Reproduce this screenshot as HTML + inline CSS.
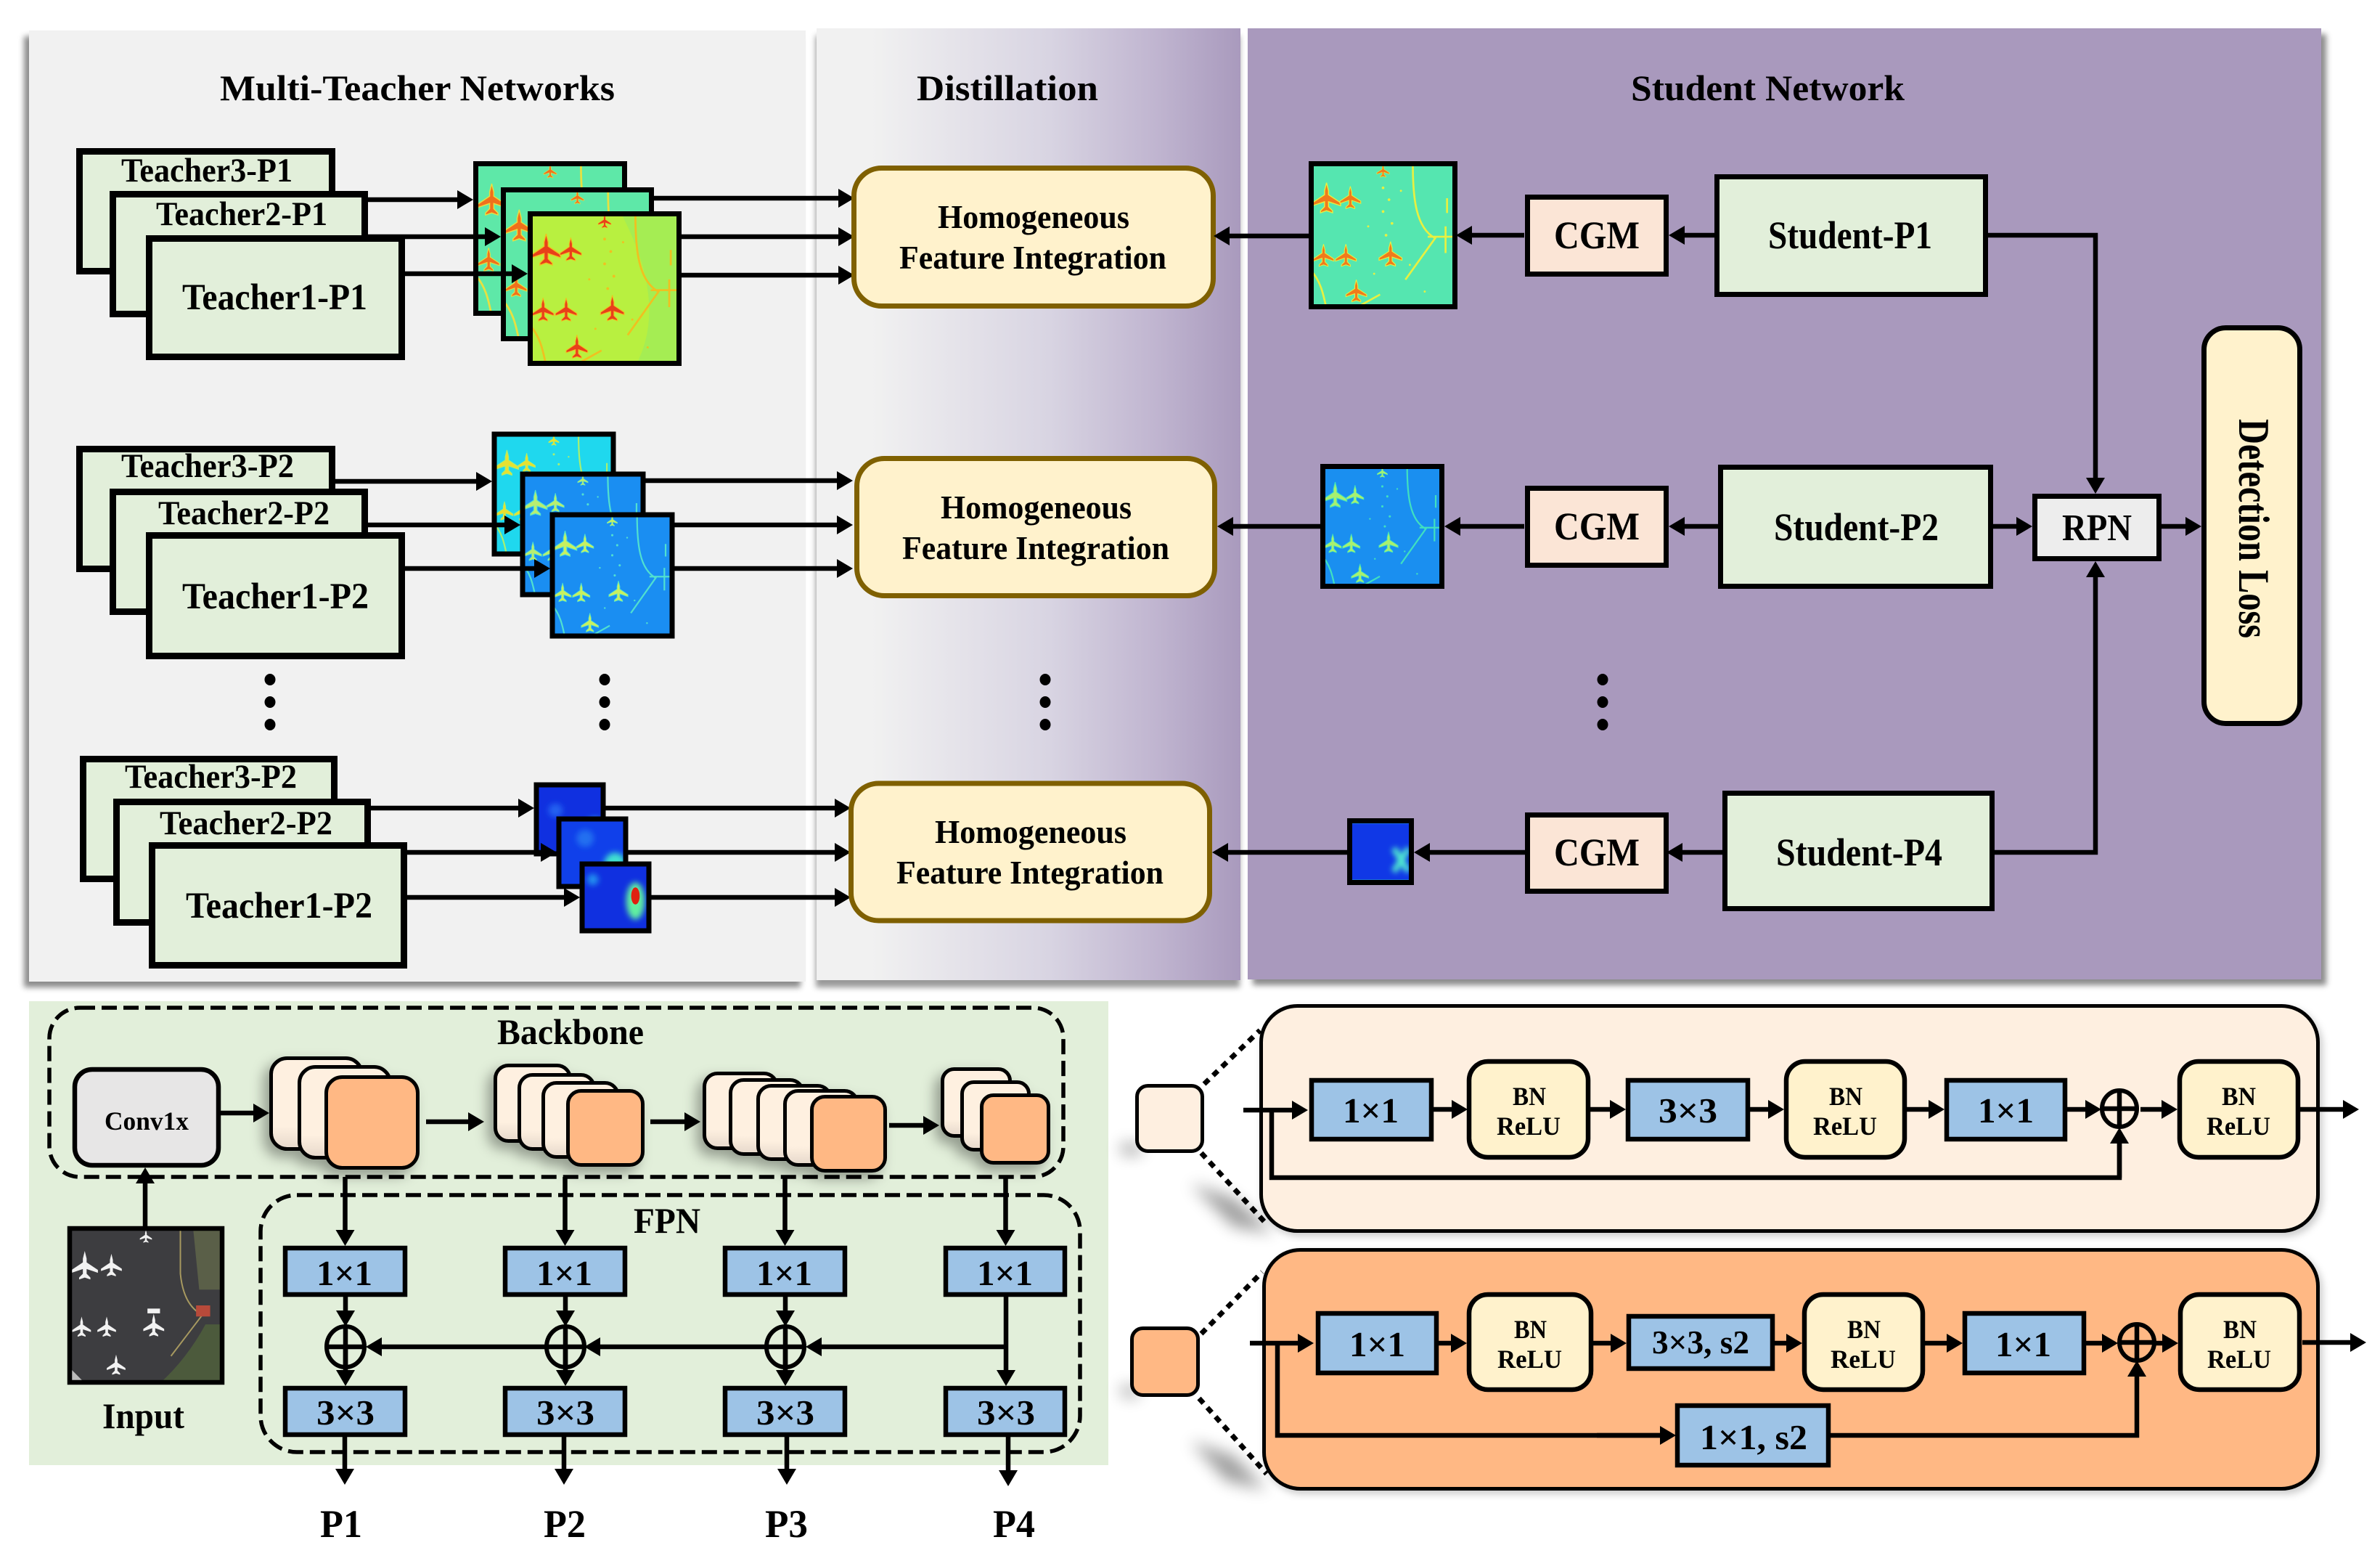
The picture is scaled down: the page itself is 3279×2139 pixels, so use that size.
<!DOCTYPE html>
<html><head><meta charset="utf-8">
<style>
html,body{margin:0;padding:0;background:#fff;width:3279px;height:2139px;overflow:hidden}
svg{display:block}
text{font-family:"Liberation Serif",serif;font-weight:bold;fill:#000}
.a{stroke:#000;stroke-width:6.5;fill:none;marker-end:url(#h)}
.l{stroke:#000;stroke-width:6.5;fill:none}
.t{fill:#e2efda;stroke:#000;stroke-width:9}
.s{fill:#e2efda;stroke:#000;stroke-width:7}
.c{fill:#fbe5d6;stroke:#000;stroke-width:7}
.fb{fill:none;stroke:#000;stroke-width:7}
.hf{fill:#fff2cc;stroke:#7f6000;stroke-width:7}
.b{fill:#9dc3e6;stroke:#000;stroke-width:6.5}
.bn{fill:#fff2cc;stroke:#000;stroke-width:6.5}
.k{fill:url(#cg);stroke:#000;stroke-width:5}
.o{fill:#ffb884;stroke:#000;stroke-width:5}
.d{fill:none;stroke:#000;stroke-width:5.5;stroke-dasharray:21 9}
.p{fill:none;stroke:#000;stroke-width:7;stroke-dasharray:9 8}
.x{fill:none;stroke:#000;stroke-width:6}
</style></head><body>
<svg width="3279" height="2139" viewBox="0 0 3279 2139" xmlns="http://www.w3.org/2000/svg">
<defs>
<marker id="h" markerUnits="userSpaceOnUse" markerWidth="24" markerHeight="28" refX="0" refY="13" orient="auto" overflow="visible"><path d="M0,0L22,13L0,26Z" fill="#000"/></marker>
<linearGradient id="dg" x1="0" x2="1" y1="0" y2="0"><stop offset=".13" stop-color="#f1f1f1"/><stop offset=".55" stop-color="#d8d4e2"/><stop offset=".8" stop-color="#c0b5d0"/><stop offset="1" stop-color="#a99abd"/></linearGradient>
<linearGradient id="cg" x1="0" x2="0" y1="0" y2="1"><stop offset=".75" stop-color="#fef0e0"/><stop offset="1" stop-color="#e6d8cb"/></linearGradient>
<filter id="s1" x="-5%" y="-5%" width="110%" height="110%"><feDropShadow dx="-7" dy="8" stdDeviation="4" flood-color="#000" flood-opacity=".45"/></filter>
<filter id="s2" x="-5%" y="-5%" width="110%" height="110%"><feDropShadow dx="-1" dy="10" stdDeviation="4" flood-color="#000" flood-opacity=".4"/></filter>
<filter id="s3" x="-5%" y="-5%" width="110%" height="110%"><feDropShadow dx="7" dy="8" stdDeviation="4" flood-color="#000" flood-opacity=".45"/></filter>
<filter id="sc" x="-40%" y="-40%" width="180%" height="180%"><feDropShadow dx="-8" dy="9" stdDeviation="9" flood-color="#000" flood-opacity=".35"/></filter>
<filter id="sp" x="-5%" y="-5%" width="110%" height="110%"><feDropShadow dx="4" dy="5" stdDeviation="5" flood-color="#000" flood-opacity=".2"/></filter>
<filter id="bl" x="-60%" y="-60%" width="220%" height="220%"><feGaussianBlur stdDeviation="11"/></filter>
<filter id="b4" x="-50%" y="-50%" width="200%" height="200%"><feGaussianBlur stdDeviation="4"/></filter>
<path id="pl" d="M0,-7L1,-3L1,-1L7,3L7,4.5L1,2.5L1,5L3,7L3,8L0,7L-3,8L-3,7L-1,5L-1,2.5L-7,4.5L-7,3L-1,-1L-1,-3Z"/>
<g id="air" fill="currentColor">
<g stroke="var(--h)" stroke-width=".5">
<use href="#pl" transform="translate(12,24) scale(1.35)"/>
<use href="#pl" transform="translate(28,24) scale(1)"/>
<use href="#pl" transform="translate(50,6) scale(.6)"/>
<use href="#pl" transform="translate(10,63)"/>
<use href="#pl" transform="translate(25,63)"/>
<use href="#pl" transform="translate(55,62) scale(1.1)"/>
<use href="#pl" transform="translate(32,87)"/>
</g>
<g fill="none" stroke="var(--h)" stroke-width="1.3">
<path d="M70,2C70,25 72,45 85,52L65,80M92,44V62M80,51H98M0,72C8,80 10,90 12,100M30,100L48,90M93,25V35"/>
</g>
<g fill="var(--h)"><circle cx="50" cy="18" r=".9"/><circle cx="54" cy="26" r=".9"/><circle cx="50" cy="34" r=".9"/><circle cx="56" cy="42" r=".9"/><circle cx="52" cy="50" r=".9"/><circle cx="40" cy="44" r=".7"/><circle cx="68" cy="70" r=".7"/><circle cx="78" cy="88" r=".7"/><circle cx="44" cy="76" r=".7"/><circle cx="62" cy="20" r=".7"/></g>
</g>
</defs>

<!-- panels -->
<rect x="40" y="42" width="1070" height="1310" fill="#f1f1f1" filter="url(#s1)"/>
<rect x="1125" y="39" width="584" height="1311" fill="url(#dg)" filter="url(#s2)"/>
<rect x="1719" y="39" width="1479" height="1310" fill="#a999bd" filter="url(#s3)"/>

<!-- titles -->
<text x="303" y="138" font-size="50" textLength="544" lengthAdjust="spacingAndGlyphs">Multi-Teacher Networks</text>
<text x="1263" y="138" font-size="50" textLength="250" lengthAdjust="spacingAndGlyphs">Distillation</text>
<text x="2247" y="138" font-size="50" textLength="377" lengthAdjust="spacingAndGlyphs">Student Network</text>

<!-- row 1 teachers -->
<rect class="t" x="109.5" y="208.5" width="348" height="165"/>
<text x="167" y="250" font-size="47" textLength="236" lengthAdjust="spacingAndGlyphs">Teacher3-P1</text>
<rect class="t" x="155.5" y="267.5" width="347" height="165"/>
<text x="215" y="310" font-size="47" textLength="236" lengthAdjust="spacingAndGlyphs">Teacher2-P1</text>
<rect class="t" x="205.5" y="328.5" width="348" height="163"/>
<text x="251" y="426" font-size="51" textLength="255" lengthAdjust="spacingAndGlyphs">Teacher1-P1</text>

<!-- row 1 maps -->
<svg x="652" y="222" width="212" height="213" viewBox="0 0 100 100" preserveAspectRatio="none"><rect width="100" height="100" fill="#5ee8a8"/><use href="#air" style="color:#f0701c;--h:#e8e040"/></svg>
<rect class="fb" x="655.5" y="225.5" width="205" height="206"/>
<svg x="690" y="258" width="211" height="212" viewBox="0 0 100 100" preserveAspectRatio="none"><rect width="100" height="100" fill="#5ee8a8"/><use href="#air" style="color:#f0701c;--h:#e8e040"/></svg>
<rect class="fb" x="693.5" y="261.5" width="204" height="205"/>
<svg x="727" y="291" width="212" height="213" viewBox="0 0 100 100" preserveAspectRatio="none"><rect width="100" height="100" fill="#b8f040"/><path d="M60,0H100V100H70Q92,60 60,0Z" fill="#a0ec58" opacity=".8"/><use href="#air" style="color:#e8401a;--h:#f0c020"/></svg>
<rect class="fb" x="730.5" y="294.5" width="205" height="206"/>

<path class="a" d="M507 275H630"/><path class="a" d="M507 326H668"/><path class="a" d="M558 377H705"/>
<path class="a" d="M901 273H1155"/><path class="a" d="M939 326H1155"/><path class="a" d="M939 379H1155"/>

<rect class="hf" x="1176.5" y="231.5" width="495" height="190" rx="38"/>
<text x="1292" y="314" font-size="46" textLength="264" lengthAdjust="spacingAndGlyphs">Homogeneous</text>
<text x="1239" y="370" font-size="46" textLength="368" lengthAdjust="spacingAndGlyphs">Feature Integration</text>

<svg x="1803" y="222" width="205" height="204" viewBox="0 0 100 100" preserveAspectRatio="none"><rect width="100" height="100" fill="#55e6b0"/><use href="#air" style="color:#f07a1c;--h:#e8f040"/></svg>
<rect class="fb" x="1806.5" y="225.5" width="198" height="197"/>
<path class="a" d="M1803 325H1694"/>
<path class="a" d="M2100 324H2028"/>
<rect class="c" x="2104.5" y="271.5" width="191" height="106"/>
<text x="2141" y="342" font-size="54" textLength="118" lengthAdjust="spacingAndGlyphs">CGM</text>
<path class="a" d="M2362 324H2321"/>
<rect class="s" x="2365.5" y="243.5" width="370" height="162"/>
<text x="2436" y="342" font-size="54" textLength="226" lengthAdjust="spacingAndGlyphs">Student-P1</text>
<path class="a" d="M2739 324H2887V658"/>

<!-- row 2 teachers -->
<rect class="t" x="109.5" y="618.5" width="348" height="165"/>
<text x="167" y="657" font-size="47" textLength="238" lengthAdjust="spacingAndGlyphs">Teacher3-P2</text>
<rect class="t" x="155.5" y="677.5" width="347" height="165"/>
<text x="218" y="722" font-size="47" textLength="236" lengthAdjust="spacingAndGlyphs">Teacher2-P2</text>
<rect class="t" x="205.5" y="737.5" width="348" height="166"/>
<text x="251" y="838" font-size="51" textLength="257" lengthAdjust="spacingAndGlyphs">Teacher1-P2</text>

<svg x="678" y="595" width="170" height="171" viewBox="0 0 100 100" preserveAspectRatio="none"><rect width="100" height="100" fill="#1fd8ee"/><use href="#air" style="color:#e8e030;--h:#a8f070"/></svg>
<rect class="fb" x="681" y="598" width="164" height="165"/>
<svg x="717" y="650" width="172" height="172" viewBox="0 0 100 100" preserveAspectRatio="none"><rect width="100" height="100" fill="#1a8ef2"/><use href="#air" style="color:#b8ee70;--h:#50e0d0"/></svg>
<rect class="fb" x="720" y="653" width="166" height="166"/>
<svg x="758" y="706" width="171" height="173" viewBox="0 0 100 100" preserveAspectRatio="none"><rect width="100" height="100" fill="#1a8ef2"/><use href="#air" style="color:#c8f060;--h:#50e0d0"/></svg>
<rect class="fb" x="761" y="709" width="165" height="167"/>

<path class="a" d="M462 663H656"/><path class="a" d="M507 723H695"/><path class="a" d="M558 783H736"/>
<path class="a" d="M889 662H1153"/><path class="a" d="M929 723H1153"/><path class="a" d="M929 783H1153"/>

<rect class="hf" x="1180.5" y="631.5" width="493" height="189" rx="38"/>
<text x="1296" y="714" font-size="46" textLength="263" lengthAdjust="spacingAndGlyphs">Homogeneous</text>
<text x="1243" y="770" font-size="46" textLength="368" lengthAdjust="spacingAndGlyphs">Feature Integration</text>

<svg x="1819" y="639" width="171" height="172" viewBox="0 0 100 100" preserveAspectRatio="none"><rect width="100" height="100" fill="#1a8ff0"/><use href="#air" style="color:#a8f070;--h:#40e0c0"/></svg>
<rect class="fb" x="1822.5" y="642.5" width="164" height="165"/>
<path class="a" d="M1819 725H1699"/>
<path class="a" d="M2100 725H2012"/>
<rect class="c" x="2104.5" y="672.5" width="191" height="106"/>
<text x="2141" y="743" font-size="54" textLength="118" lengthAdjust="spacingAndGlyphs">CGM</text>
<path class="a" d="M2367 725H2321"/>
<rect class="s" x="2370.5" y="643.5" width="372" height="164"/>
<text x="2444" y="744" font-size="54" textLength="227" lengthAdjust="spacingAndGlyphs">Student-P2</text>
<path class="a" d="M2746 725H2778"/>
<rect x="2803.5" y="683.5" width="171" height="86" fill="#ededed" stroke="#000" stroke-width="7"/>
<text x="2841" y="744" font-size="52" textLength="96" lengthAdjust="spacingAndGlyphs">RPN</text>
<path class="a" d="M2978 725H3011"/>

<rect x="3036.5" y="451.5" width="132" height="545" rx="30" fill="#fff2cc" stroke="#000" stroke-width="7"/>
<text transform="translate(3085,577) rotate(90)" font-size="60" textLength="302" lengthAdjust="spacingAndGlyphs">Detection Loss</text>

<!-- dots -->
<g fill="#000">
<ellipse cx="372" cy="936" rx="7.5" ry="8"/><ellipse cx="372" cy="967" rx="7.5" ry="8"/><ellipse cx="372" cy="998" rx="7.5" ry="8"/>
<ellipse cx="833" cy="936" rx="7.5" ry="8"/><ellipse cx="833" cy="967" rx="7.5" ry="8"/><ellipse cx="833" cy="998" rx="7.5" ry="8"/>
<ellipse cx="1440" cy="936" rx="7.5" ry="8"/><ellipse cx="1440" cy="967" rx="7.5" ry="8"/><ellipse cx="1440" cy="998" rx="7.5" ry="8"/>
<ellipse cx="2208" cy="936" rx="7.5" ry="8"/><ellipse cx="2208" cy="967" rx="7.5" ry="8"/><ellipse cx="2208" cy="998" rx="7.5" ry="8"/>
</g>

<!-- row 3 -->
<rect class="t" x="114.5" y="1045.5" width="346" height="165"/>
<text x="172" y="1085" font-size="47" textLength="237" lengthAdjust="spacingAndGlyphs">Teacher3-P2</text>
<rect class="t" x="160.5" y="1104.5" width="346" height="166"/>
<text x="220" y="1149" font-size="47" textLength="238" lengthAdjust="spacingAndGlyphs">Teacher2-P2</text>
<rect class="t" x="209.5" y="1164.5" width="347" height="165"/>
<text x="256" y="1264" font-size="51" textLength="257" lengthAdjust="spacingAndGlyphs">Teacher1-P2</text>

<svg x="736" y="1078" width="98" height="95" viewBox="0 0 100 100" preserveAspectRatio="none"><rect width="100" height="100" fill="#1030e0"/><circle cx="85" cy="65" r="14" fill="#30c0f0" filter="url(#b4)"/><circle cx="30" cy="40" r="10" fill="#2060f0" filter="url(#b4)"/><rect width="100" height="6" fill="#20a0f0"/></svg>
<rect class="fb" x="739" y="1081" width="92" height="95"/>
<svg x="767" y="1125" width="98" height="99" viewBox="0 0 100 100" preserveAspectRatio="none"><rect width="100" height="100" fill="#1040ea"/><circle cx="82" cy="65" r="15" fill="#40e0d0" filter="url(#b4)"/><circle cx="40" cy="30" r="12" fill="#2070f0" filter="url(#b4)"/><rect width="100" height="6" fill="#20a0f0"/></svg>
<rect class="fb" x="770" y="1128" width="92" height="93"/>
<svg x="799" y="1187" width="98" height="98" viewBox="0 0 100 100" preserveAspectRatio="none"><rect width="100" height="100" fill="#1030e0"/><circle cx="18" cy="25" r="8" fill="#2090f0" filter="url(#b4)"/><ellipse cx="78" cy="55" rx="13" ry="26" fill="#60f0a0" filter="url(#b4)"/><ellipse cx="78" cy="48" rx="6" ry="12" fill="#e02010"/><rect width="100" height="6" fill="#20b0f0"/></svg>
<rect class="fb" x="802" y="1190" width="92" height="92"/>

<path class="a" d="M511 1113H714"/><path class="a" d="M561 1174H745"/><path class="a" d="M561 1236H777"/>
<path class="a" d="M834 1113H1150"/><path class="a" d="M865 1174H1150"/><path class="a" d="M897 1236H1150"/>

<rect class="hf" x="1172.5" y="1079" width="494" height="189" rx="38"/>
<text x="1288" y="1161" font-size="46" textLength="264" lengthAdjust="spacingAndGlyphs">Homogeneous</text>
<text x="1235" y="1217" font-size="46" textLength="368" lengthAdjust="spacingAndGlyphs">Feature Integration</text>

<svg x="1856" y="1127" width="92" height="92" viewBox="0 0 100 100" preserveAspectRatio="none"><rect width="100" height="100" fill="#1038e6"/><path d="M70,45L92,80M92,45L70,80" stroke="#50e8d0" stroke-width="9" filter="url(#b4)"/><rect width="100" height="8" fill="#20b0f0"/><rect y="92" width="100" height="8" fill="#30d0d0"/></svg>
<rect class="fb" x="1859.5" y="1130.5" width="85" height="85"/>
<path class="a" d="M1856 1174H1692"/>
<path class="a" d="M2101 1174H1970"/>
<rect class="c" x="2104.5" y="1122.5" width="191" height="105"/>
<text x="2141" y="1192" font-size="54" textLength="118" lengthAdjust="spacingAndGlyphs">CGM</text>
<path class="a" d="M2373 1174H2318"/>
<rect class="s" x="2376.5" y="1092.5" width="368" height="159"/>
<text x="2447" y="1192" font-size="54" textLength="229" lengthAdjust="spacingAndGlyphs">Student-P4</text>
<path class="a" d="M2748 1174H2887V795"/>

<!-- green panel -->
<rect x="40" y="1379" width="1487" height="639" fill="#e2efda"/>
<rect class="d" x="68" y="1388" width="1397" height="233" rx="42"/>
<rect class="d" x="359" y="1646" width="1129" height="354" rx="50"/>
<text x="685" y="1438" font-size="50" textLength="202" lengthAdjust="spacingAndGlyphs">Backbone</text>
<text x="873" y="1698" font-size="50" textLength="92" lengthAdjust="spacingAndGlyphs">FPN</text>

<rect x="103" y="1473" width="198" height="132" rx="24" fill="#e7e6e6" stroke="#000" stroke-width="6.5"/>
<text x="144" y="1556" font-size="36" textLength="116" lengthAdjust="spacingAndGlyphs">Conv1x</text>
<path class="a" d="M304 1533H349"/>

<!-- input -->
<svg x="93" y="1689" width="216" height="218" viewBox="0 0 100 100" preserveAspectRatio="none">
<rect width="100" height="100" fill="#3d3d40"/>
<path d="M100,62V100H58Q76,84 88,62Z" fill="#4c5a3c"/><path d="M80,0H100V40H84Z" fill="#5a5f48"/><path d="M0,88L12,100H0Z" fill="#bbb"/>
<path d="M72,0V30Q74,50 86,56L66,82" fill="none" stroke="#a89a60" stroke-width=".9"/>
<rect x="82" y="50" width="9" height="7" fill="#b84a3a"/>
<g fill="#f2f2f2">
<use href="#pl" transform="translate(11,24) scale(1.2)"/><use href="#pl" transform="translate(28,24) scale(.95)"/><use href="#pl" transform="translate(50,6) scale(.55)"/>
<use href="#pl" transform="translate(9,63) scale(.85)"/><use href="#pl" transform="translate(25,63) scale(.85)"/><use href="#pl" transform="translate(55,62) scale(.95)"/><use href="#pl" transform="translate(31,87) scale(.85)"/>
<rect x="51" y="52" width="8" height="3"/>
</g></svg>
<rect x="96" y="1692" width="210" height="212" fill="none" stroke="#000" stroke-width="6.5"/>
<text x="141" y="1967" font-size="50" textLength="113" lengthAdjust="spacingAndGlyphs">Input</text>
<path class="a" d="M200 1689V1630"/>

<!-- stacks -->
<g filter="url(#sc)">
<rect class="k" x="373.5" y="1457.5" width="125" height="125" rx="22"/>
<rect class="k" x="412.5" y="1469.5" width="125" height="125" rx="22"/>
<rect class="o" x="449.5" y="1483.5" width="126" height="125" rx="22"/>
</g>
<path class="a" d="M587 1545H645"/>
<g filter="url(#sc)">
<rect class="k" x="682.5" y="1467.5" width="103" height="104" rx="18"/>
<rect class="k" x="715.5" y="1480.5" width="103" height="102" rx="18"/>
<rect class="k" x="748.5" y="1491.5" width="103" height="102" rx="18"/>
<rect class="o" x="782.5" y="1502.5" width="103" height="102" rx="18"/>
</g>
<path class="a" d="M896 1545H943"/>
<g filter="url(#sc)">
<rect class="k" x="970.5" y="1478.5" width="100" height="103" rx="18"/>
<rect class="k" x="1006.5" y="1487.5" width="100" height="102" rx="18"/>
<rect class="k" x="1044.5" y="1495.5" width="100" height="101" rx="18"/>
<rect class="k" x="1081.5" y="1502.5" width="100" height="102" rx="18"/>
<rect class="o" x="1118.5" y="1510.5" width="101" height="102" rx="18"/>
</g>
<path class="a" d="M1225 1550H1272"/>
<g filter="url(#sc)">
<rect class="k" x="1298.5" y="1472.5" width="93" height="92" rx="16"/>
<rect class="k" x="1325.5" y="1490.5" width="92" height="93" rx="16"/>
<rect class="o" x="1352.5" y="1508.5" width="92" height="93" rx="16"/>
</g>

<!-- FPN arrows -->
<path class="a" d="M475.5 1621V1694"/><path class="a" d="M778.5 1621V1694"/><path class="a" d="M1081.5 1621V1694"/><path class="a" d="M1385.5 1621V1694"/>
<rect class="b" x="393" y="1719" width="165" height="64"/>
<rect class="b" x="696" y="1719" width="165" height="64"/>
<rect class="b" x="999" y="1719" width="165" height="64"/>
<rect class="b" x="1303" y="1719" width="164" height="64"/>
<rect class="b" x="393" y="1912" width="165" height="64"/>
<rect class="b" x="696" y="1912" width="165" height="64"/>
<rect class="b" x="999" y="1912" width="165" height="64"/>
<rect class="b" x="1303" y="1912" width="164" height="64"/>
<g font-size="49">
<text x="436" y="1770" textLength="77" lengthAdjust="spacingAndGlyphs">1×1</text>
<text x="739" y="1770" textLength="77" lengthAdjust="spacingAndGlyphs">1×1</text>
<text x="1042" y="1770" textLength="77" lengthAdjust="spacingAndGlyphs">1×1</text>
<text x="1346" y="1770" textLength="77" lengthAdjust="spacingAndGlyphs">1×1</text>
<text x="436" y="1962" textLength="80" lengthAdjust="spacingAndGlyphs">3×3</text>
<text x="739" y="1962" textLength="80" lengthAdjust="spacingAndGlyphs">3×3</text>
<text x="1042" y="1962" textLength="80" lengthAdjust="spacingAndGlyphs">3×3</text>
<text x="1346" y="1962" textLength="80" lengthAdjust="spacingAndGlyphs">3×3</text>
</g>
<path class="a" d="M476 1786V1805"/><path class="a" d="M779 1786V1805"/><path class="a" d="M1082 1786V1805"/>
<path class="a" d="M476 1854V1887"/><path class="a" d="M779 1854V1887"/><path class="a" d="M1082 1854V1887"/>
<path class="a" d="M1386 1786V1887"/>
<ellipse class="x" cx="476" cy="1855" rx="26" ry="28"/><ellipse class="x" cx="779" cy="1855" rx="26" ry="28"/><ellipse class="x" cx="1082" cy="1855" rx="26" ry="28"/>
<path class="l" d="M450 1855H502M753 1855H805M1056 1855H1108M476 1827V1883M779 1827V1883M1082 1827V1883" stroke-width="5"/>
<path class="a" d="M1386 1855H1132"/><path class="a" d="M1056 1855H827"/><path class="a" d="M753 1855H526"/>
<path class="a" d="M475 1979V2023"/><path class="a" d="M777 1979V2023"/><path class="a" d="M1084 1979V2023"/><path class="a" d="M1389 1979V2025"/>
<g font-size="54">
<text x="441" y="2117" textLength="58" lengthAdjust="spacingAndGlyphs">P1</text>
<text x="749" y="2117" textLength="58" lengthAdjust="spacingAndGlyphs">P2</text>
<text x="1054" y="2117" textLength="59" lengthAdjust="spacingAndGlyphs">P3</text>
<text x="1368" y="2117" textLength="58" lengthAdjust="spacingAndGlyphs">P4</text>
</g>

<!-- right: shadows -->
<g fill="#000" opacity=".38" filter="url(#bl)">
<path d="M1640,1630L1700,1650L1755,1698L1700,1690Z"/>
<path d="M1640,1985L1700,2005L1745,2052L1690,2040Z"/>
<path d="M1545,1574L1575,1578L1570,1590L1545,1590Z"/>
<path d="M1545,1908L1570,1912L1565,1925L1545,1922Z"/>
</g>
<rect x="1737.5" y="1385.5" width="1456" height="310" rx="50" fill="#feefe0" stroke="#000" stroke-width="5" filter="url(#sp)"/>
<rect x="1741.5" y="1721.5" width="1452" height="329" rx="50" fill="#ffb884" stroke="#000" stroke-width="5" filter="url(#sp)"/>

<path class="p" d="M1659 1493L1736 1419"/><path class="p" d="M1655 1588L1745 1686"/>
<path class="p" d="M1655 1837L1739 1752"/><path class="p" d="M1652 1926L1745 2030"/>
<rect x="1566.5" y="1495.5" width="90" height="90" rx="15" fill="#feefe0" stroke="#000" stroke-width="5"/>
<rect x="1559.5" y="1829.5" width="91" height="92" rx="15" fill="#ffb884" stroke="#000" stroke-width="5"/>

<!-- row A -->
<path class="l" d="M1752 1529V1622H2920V1575"/><path class="a" d="M2920 1622V1575"/>
<path class="a" d="M1713 1529H1780"/>
<rect class="b" x="1807" y="1488" width="165" height="81"/>
<text x="1850" y="1546" font-size="49" textLength="77" lengthAdjust="spacingAndGlyphs">1×1</text>
<path class="a" d="M1975 1528H2000"/>
<rect class="bn" x="2024" y="1462" width="164" height="132" rx="26"/>
<text x="2084" y="1522" font-size="36" textLength="46" lengthAdjust="spacingAndGlyphs">BN</text>
<text x="2062" y="1563" font-size="36" textLength="88" lengthAdjust="spacingAndGlyphs">ReLU</text>
<path class="a" d="M2191 1528H2218"/>
<rect class="b" x="2243" y="1488" width="165" height="81"/>
<text x="2285" y="1546" font-size="49" textLength="81" lengthAdjust="spacingAndGlyphs">3×3</text>
<path class="a" d="M2411 1528H2436"/>
<rect class="bn" x="2461" y="1462" width="163" height="132" rx="26"/>
<text x="2520" y="1522" font-size="36" textLength="46" lengthAdjust="spacingAndGlyphs">BN</text>
<text x="2498" y="1563" font-size="36" textLength="88" lengthAdjust="spacingAndGlyphs">ReLU</text>
<path class="a" d="M2627 1528H2657"/>
<rect class="b" x="2682" y="1488" width="163" height="81"/>
<text x="2725" y="1546" font-size="49" textLength="77" lengthAdjust="spacingAndGlyphs">1×1</text>
<path class="a" d="M2848 1528H2873"/>
<ellipse class="x" cx="2920" cy="1527" rx="24" ry="25"/>
<path class="l" d="M2896 1527H2944M2920 1502V1552" stroke-width="5"/>
<path class="a" d="M2949 1528H2978"/>
<rect class="bn" x="3003" y="1462" width="163" height="132" rx="26"/>
<text x="3061" y="1522" font-size="36" textLength="47" lengthAdjust="spacingAndGlyphs">BN</text>
<text x="3040" y="1563" font-size="36" textLength="88" lengthAdjust="spacingAndGlyphs">ReLU</text>
<path class="a" d="M3169 1528H3228"/>

<!-- row B -->
<path class="l" d="M1760 1850V1977H2287"/><path class="a" d="M2200 1977H2287"/>
<path class="a" d="M1722 1850H1788"/>
<rect class="b" x="1816" y="1809" width="163" height="82"/>
<text x="1859" y="1868" font-size="49" textLength="77" lengthAdjust="spacingAndGlyphs">1×1</text>
<path class="a" d="M1982 1850H1999"/>
<rect class="bn" x="2024" y="1783" width="168" height="131" rx="26"/>
<text x="2086" y="1843" font-size="36" textLength="45" lengthAdjust="spacingAndGlyphs">BN</text>
<text x="2063" y="1884" font-size="36" textLength="89" lengthAdjust="spacingAndGlyphs">ReLU</text>
<path class="a" d="M2195 1850H2219"/>
<rect class="b" x="2244" y="1813" width="198" height="72"/>
<text x="2276" y="1864" font-size="46" textLength="134" lengthAdjust="spacingAndGlyphs">3×3, s2</text>
<path class="a" d="M2445 1850H2461"/>
<rect class="bn" x="2486" y="1783" width="163" height="131" rx="26"/>
<text x="2545" y="1843" font-size="36" textLength="46" lengthAdjust="spacingAndGlyphs">BN</text>
<text x="2522" y="1884" font-size="36" textLength="90" lengthAdjust="spacingAndGlyphs">ReLU</text>
<path class="a" d="M2652 1850H2682"/>
<rect class="b" x="2707" y="1809" width="164" height="82"/>
<text x="2749" y="1868" font-size="49" textLength="77" lengthAdjust="spacingAndGlyphs">1×1</text>
<path class="a" d="M2874 1850H2896"/>
<ellipse class="x" cx="2944" cy="1849" rx="24" ry="25"/>
<path class="l" d="M2920 1849H2968M2944 1824V1874" stroke-width="5"/>
<path class="a" d="M2969 1850H2979"/>
<rect class="bn" x="3004" y="1783" width="164" height="131" rx="26"/>
<text x="3063" y="1843" font-size="36" textLength="46" lengthAdjust="spacingAndGlyphs">BN</text>
<text x="3041" y="1884" font-size="36" textLength="88" lengthAdjust="spacingAndGlyphs">ReLU</text>
<path class="a" d="M3172 1849H3238"/>
<rect class="b" x="2311" y="1936" width="208" height="82"/>
<text x="2342" y="1996" font-size="49" textLength="148" lengthAdjust="spacingAndGlyphs">1×1, s2</text>
<path class="a" d="M2522 1977H2944V1896"/>
</svg>
</body></html>
